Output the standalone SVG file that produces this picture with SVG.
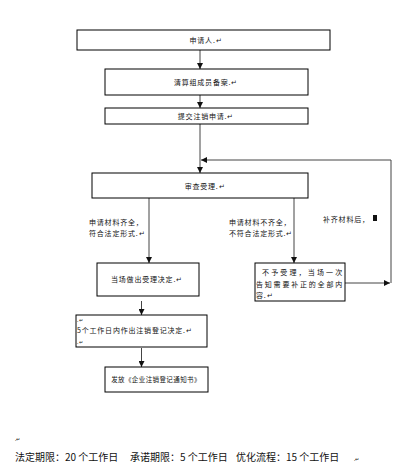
<svg xmlns="http://www.w3.org/2000/svg" width="416" height="476" viewBox="0 0 416 476">
<style>
.box{fill:#fff;stroke:#000;stroke-width:1}
.t{font-family:"Noto Sans CJK SC","Liberation Sans",sans-serif;font-size:7px;fill:#111;letter-spacing:0.8px}
.c{text-anchor:middle}
.ln{fill:none;stroke:#444;stroke-width:1}
.foot{font-family:"Noto Sans CJK SC","Liberation Sans",sans-serif;font-size:10px;fill:#111}
</style>
<defs>
<marker id="ah" viewBox="0 0 10 10" refX="10" refY="5" markerWidth="7" markerHeight="6" markerUnits="userSpaceOnUse" orient="auto">
<path d="M0,0 L10,5 L0,10 Z" fill="#111"/>
</marker>
</defs>
<rect width="416" height="476" fill="#fff"/>
<g id="connectors">
<path class="ln" d="M200,50 V69" marker-end="url(#ah)"/>
<path class="ln" d="M200,95 V108" marker-end="url(#ah)"/>
<path class="ln" d="M200,124 V173" marker-end="url(#ah)"/>
<path class="ln" d="M149,198 V263" marker-end="url(#ah)"/>
<path class="ln" d="M294,198 V263" marker-end="url(#ah)"/>
<path class="ln" d="M141.5,301 V315" marker-end="url(#ah)"/>
<path class="ln" d="M141.5,348 V367" marker-end="url(#ah)"/>
<path class="ln" d="M345,283 H390" marker-end="url(#ah)"/>
<path class="ln" d="M391,283 V160 H201" marker-end="url(#ah)"/>
</g>
<g id="n1"><rect class="box" x="77" y="30" width="253" height="20"/><text class="t c" x="206" y="43">申请人.↵</text></g>
<g id="n2"><rect class="box" x="105" y="69" width="203" height="26"/><text class="t c" x="206" y="85">清算组成员备案.↵</text></g>
<g id="n3"><rect class="box" x="105" y="108" width="203" height="16"/><text class="t c" x="206" y="119">提交注销申请.↵</text></g>
<g id="n4"><rect class="box" x="92" y="173" width="216" height="25"/><text class="t c" x="205" y="189">审查受理.↵</text></g>
<g id="n5"><rect class="box" x="97" y="263" width="102" height="33"/><text class="t c" x="147" y="282">当场做出受理决定.↵</text></g>
<g id="n6"><rect class="box" x="76" y="315" width="131" height="32"/>
<text class="t" x="77" y="322" style="font-size:5px">.↵</text>
<text class="t" x="77" y="333">5个工作日内作出注销登记决定.↵</text>
<text class="t" x="77" y="344" style="font-size:5px">.↵</text></g>
<g id="n7"><rect class="box" x="105" y="367" width="103" height="25"/><text class="t c" x="156" y="382" style="font-size:6.5px;letter-spacing:0.4px">发放《企业注销登记通知书》</text></g>
<g id="n8"><rect class="box" x="255" y="263" width="90" height="38"/>
<text class="t" x="262" y="275" textLength="81">不予受理，当场一次</text>
<text class="t" x="256" y="287" textLength="87">告知需要补正的全部内</text>
<text class="t" x="256" y="298">容.↵</text></g>
<g id="labels">
<text class="t" x="89" y="225">申请材料齐全，</text>
<text class="t" x="89" y="236">符合法定形式.↵</text>
<text class="t" x="229" y="225">申请材料不齐全，</text>
<text class="t" x="229" y="236">不符合法定形式.↵</text>
<text class="t" x="323" y="222">补齐材料后，</text>
<rect x="373" y="215" width="4" height="6" fill="#111"/>
</g>
<g id="footer">
<text class="foot" x="15" y="441" style="font-size:5px">.↵</text>
<text class="foot" x="15" y="461">法定期限：20 个工作日</text>
<text class="foot" x="130" y="461">承诺期限：5 个工作日</text>
<text class="foot" x="236" y="461">优化流程：15 个工作日</text>
<text class="foot" x="354" y="461" style="font-size:5px">.↵</text>
</g>
</svg>
